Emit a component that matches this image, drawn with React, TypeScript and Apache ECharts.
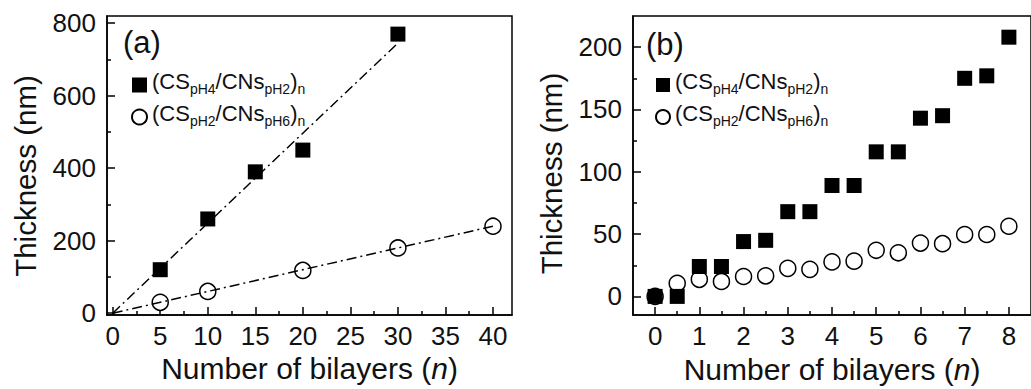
import React, { useEffect, useRef } from "react";
import * as echarts from "echarts";

// ---- Panel (a) data ----
const aSquareX = [5, 10, 15, 20, 30];
const aSquareY = [120, 260, 390, 450, 770];
const aCircleX = [5, 10, 20, 30, 40];
const aCircleY = [30, 60, 118, 180, 240];
const aFitSquare = [[0, 0], [30, 745]];
const aFitCircle = [[0, 0], [40, 240]];
const aXTicks = [0, 5, 10, 15, 20, 25, 30, 35, 40];
const aXMinor = [2.5, 7.5, 12.5, 17.5, 22.5, 27.5, 32.5, 37.5];
const aYTicks = [0, 200, 400, 600, 800];
const aYMinor = [100, 300, 500, 700];

// ---- Panel (b) data ----
const bX = [0, 0.5, 1, 1.5, 2, 2.5, 3, 3.5, 4, 4.5, 5, 5.5, 6, 6.5, 7, 7.5, 8];
const bSquareY = [0, 0, 24, 24, 44, 45, 68, 68, 89, 89, 116, 116, 143, 145, 175, 177, 208];
const bCircleY = [0, 10.5, 13.7, 12, 16, 16.5, 22.5, 21.7, 27.7, 28.3, 37, 35, 42.8, 42.3, 49.7, 49.7, 56.3];
const bXTicks = [0, 1, 2, 3, 4, 5, 6, 7, 8];
const bXMinor = [0.5, 1.5, 2.5, 3.5, 4.5, 5.5, 6.5, 7.5];
const bYTicks = [0, 50, 100, 150, 200];
const bYMinor = [25, 75, 125, 175];

const FONT = "'Liberation Sans', Arial, Helvetica, sans-serif";
const INK = "#111";

const legendLabels: Record<string, string> = {
  sq: "{m|(CS}{s|pH4}{m|/CNs}{s|pH2}{m|)}{s|n}",
  ci: "{m|(CS}{s|pH2}{m|/CNs}{s|pH6}{m|)}{s|n}",
};

const rich = {
  m: { fontSize: 22, lineHeight: 22, verticalAlign: "bottom", padding: [0, 0, 4, 0], color: INK, fontFamily: FONT },
  s: { fontSize: 14, lineHeight: 14, verticalAlign: "bottom", color: INK, fontFamily: FONT },
};

function zip(xs: number[], ys: number[]) {
  return xs.map((x, i) => [x, ys[i]]);
}

const tickLine = { color: "#000", width: 1.5 };

function mainX(grid: number, min: number, max: number, ticks: number[], name: string) {
  return {
    type: "value", gridIndex: grid, min, max, position: "bottom",
    name, nameLocation: "middle", nameGap: 22,
    nameTextStyle: { fontSize: 30, color: INK, fontFamily: FONT, rich: { i: { fontStyle: "italic", fontSize: 30, color: INK, fontFamily: FONT } } },
    axisLine: { show: true, onZero: false, lineStyle: { color: "#000", width: 1.5 } },
    axisTick: { show: true, inside: true, length: 8, customValues: ticks, lineStyle: tickLine },
    axisLabel: { customValues: ticks, fontSize: 26, margin: 8, color: INK, fontFamily: FONT },
    splitLine: { show: false },
  };
}
function minorX(grid: number, min: number, max: number, ticks: number[]) {
  return {
    type: "value", gridIndex: grid, min, max, position: "bottom",
    axisLine: { show: false, onZero: false },
    axisTick: { show: true, inside: true, length: 4, customValues: ticks, lineStyle: tickLine },
    axisLabel: { show: false },
    splitLine: { show: false },
  };
}
function mainY(grid: number, min: number, max: number, ticks: number[], name: string, gap: number, shift: number) {
  return {
    type: "value", gridIndex: grid, min, max, position: "left",
    name, nameLocation: "middle", nameGap: gap, nameRotate: 90,
    nameTextStyle: { fontSize: 29.5, color: INK, fontFamily: FONT, padding: [0, shift, 0, 0] },
    axisLine: { show: true, onZero: false, lineStyle: { color: "#000", width: 1.5 } },
    axisTick: { show: true, inside: true, length: 8, customValues: ticks, lineStyle: tickLine },
    axisLabel: { customValues: ticks, fontSize: 26, margin: 11, color: INK, fontFamily: FONT },
    splitLine: { show: false },
  };
}
function minorY(grid: number, min: number, max: number, ticks: number[]) {
  return {
    type: "value", gridIndex: grid, min, max, position: "left",
    axisLine: { show: false, onZero: false },
    axisTick: { show: true, inside: true, length: 4, customValues: ticks, lineStyle: tickLine },
    axisLabel: { show: false },
    splitLine: { show: false },
  };
}

const dashDot = [10, 4, 2, 4];

export default function App() {
  const ref = useRef<HTMLDivElement>(null);
  useEffect(() => {
    if (!ref.current) return;
    const chart = echarts.init(ref.current, undefined, { renderer: "svg" });
    const circleStyle = { color: "#fff", borderColor: "#000", borderWidth: 1.5, opacity: 1 };
    const squareStyle = { color: "#000", opacity: 1 };
    chart.setOption({
      animation: false,
      backgroundColor: "#fff",
      textStyle: { fontFamily: FONT },
      grid: [
        { left: 107, top: 16, width: 405, height: 299, show: true, borderColor: "#000", borderWidth: 1.5, backgroundColor: "transparent" },
        { left: 633, top: 16, width: 406, height: 304, show: true, borderColor: "#000", borderWidth: 1.5, backgroundColor: "transparent" },
      ],
      xAxis: [
        mainX(0, -0.6, 42, aXTicks, "Number of bilayers ({i|n})"),
        minorX(0, -0.6, 42, aXMinor),
        mainX(1, -0.5, 8.5, bXTicks, "Number of bilayers ({i|n})"),
        minorX(1, -0.5, 8.5, bXMinor),
      ],
      yAxis: [
        mainY(0, -5, 820, aYTicks, "Thickness (nm)", 67, 21),
        minorY(0, -5, 820, aYMinor),
        mainY(1, -15, 225, bYTicks, "Thickness (nm)", 67, 16),
        minorY(1, -15, 225, bYMinor),
      ],
      legend: [
        {
          left: 126, top: 65, orient: "vertical", itemGap: 6, itemWidth: 15, itemHeight: 15,
          data: ["sq", "ci"], formatter: (n: string) => legendLabels[n],
          textStyle: { rich }, selectedMode: false,
        },
        {
          left: 650, top: 65, orient: "vertical", itemGap: 6, itemWidth: 14, itemHeight: 14,
          data: ["sq", "ci"], formatter: (n: string) => legendLabels[n],
          textStyle: { rich }, selectedMode: false,
        },
      ],
      graphic: [
        { type: "text", left: 123, top: 27, style: { text: "(a)", fontSize: 31, fill: INK, fontFamily: FONT } },
        { type: "text", left: 646, top: 29, style: { text: "(b)", fontSize: 31, fill: INK, fontFamily: FONT } },
      ],
      series: [
        { name: "fitSq", type: "line", xAxisIndex: 0, yAxisIndex: 0, data: aFitSquare, showSymbol: false, silent: true, lineStyle: { color: "#000", width: 1.5, type: dashDot } },
        { name: "fitCi", type: "line", xAxisIndex: 0, yAxisIndex: 0, data: aFitCircle, showSymbol: false, silent: true, lineStyle: { color: "#000", width: 1.5, type: dashDot } },
        { name: "ci", type: "scatter", xAxisIndex: 0, yAxisIndex: 0, data: zip(aCircleX, aCircleY), symbol: "circle", symbolSize: 16, itemStyle: circleStyle },
        { name: "sq", type: "scatter", xAxisIndex: 0, yAxisIndex: 0, data: zip(aSquareX, aSquareY), symbol: "rect", symbolSize: 15, itemStyle: squareStyle },
        { name: "ci", type: "scatter", xAxisIndex: 2, yAxisIndex: 2, data: zip(bX, bCircleY), symbol: "circle", symbolSize: 16, itemStyle: circleStyle },
        { name: "sq", type: "scatter", xAxisIndex: 2, yAxisIndex: 2, data: zip(bX, bSquareY), symbol: "rect", symbolSize: 15, itemStyle: squareStyle },
      ],
    });
    return () => chart.dispose();
  }, []);
  return (
    <div style={{ position: "absolute", left: 0, top: 0, width: 1031, height: 389, overflow: "hidden", background: "#fff" }}>
      <div ref={ref} style={{ width: 1031, height: 389 }} />
    </div>
  );
}
